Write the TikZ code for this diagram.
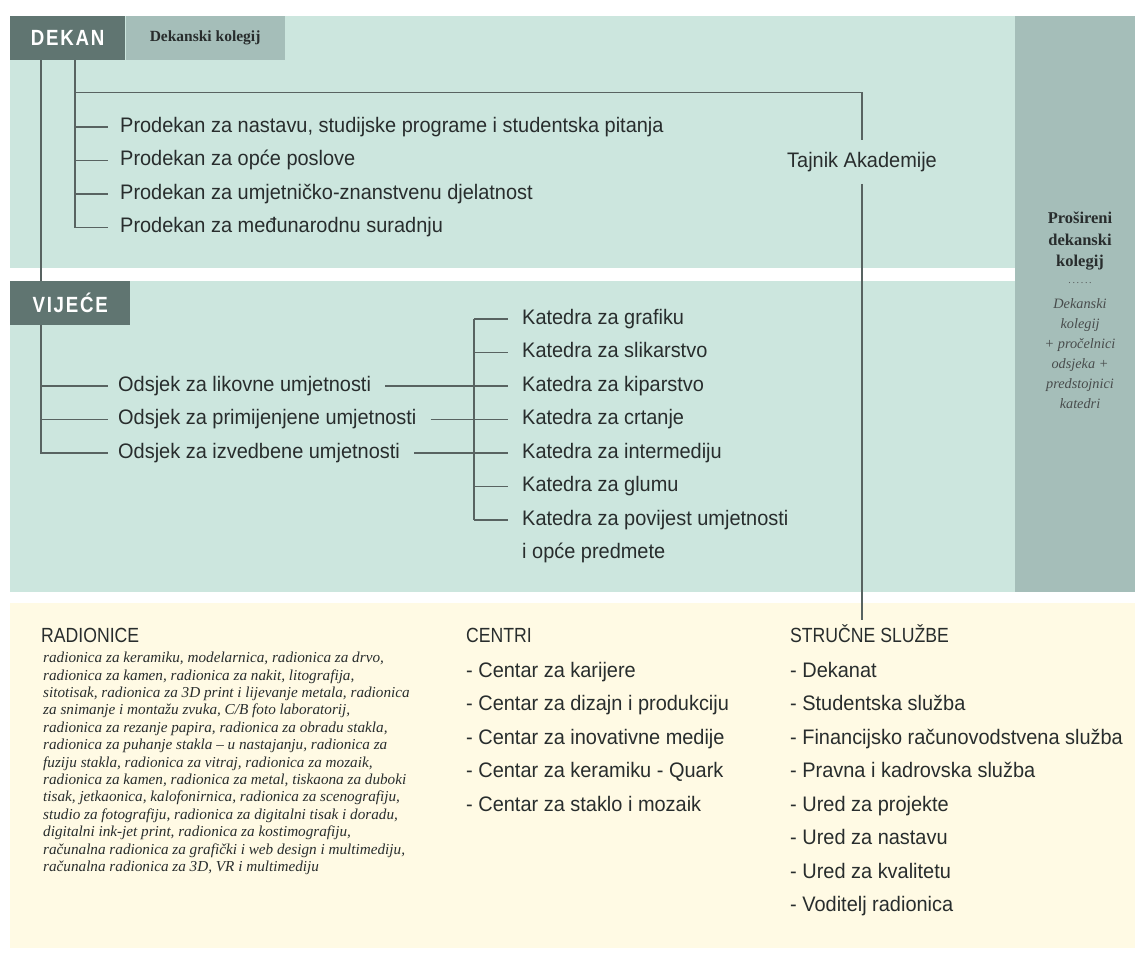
\documentclass[tikz,border=0pt]{standalone}
\usepackage{fontspec}
\setmainfont{Liberation Sans}
\newfontfamily\narrowfont[FakeStretch=0.95]{Liberation Sans}
\newfontfamily\capsfont[FakeStretch=0.86]{Liberation Sans}
\newfontfamily\chieffont[FakeStretch=0.85,LetterSpace=8]{Liberation Sans}
\newfontfamily\serfont{Liberation Serif}
\usepackage{tikz}
\usetikzlibrary{positioning}
\usetikzlibrary{calc}
\definecolor{mint}{RGB}{204, 230, 222}
\definecolor{sage}{RGB}{165, 190, 185}
\definecolor{slate}{RGB}{96, 117, 113}
\definecolor{cream}{RGB}{255, 250, 228}
\definecolor{wire}{RGB}{88, 99, 97}
\definecolor{ink}{RGB}{40, 45, 45}

\begin{document}
\begin{tikzpicture}[x=1pt, y=-1pt,
    wire/.style={draw=wire, line width=1.2pt},
    lbl/.style={anchor=west, inner sep=0pt, text height=15pt, text depth=4.5pt, text=ink,
                font=\narrowfont\fontsize{21}{25}\selectfont},
    head/.style={lbl, font=\capsfont\fontsize{20.5}{24}\selectfont},
    chief/.style={fill=slate, text=white, inner sep=0pt, anchor=north west,
                  minimum height=44pt, font=\chieffont\bfseries\fontsize{22}{26}\selectfont},
    board/.style={fill=sage, text=ink, inner sep=0pt, anchor=north west,
                  minimum height=44pt, font=\serfont\bfseries\fontsize{15.5}{18}\selectfont}
]

        \pgfmathsetmacro{\rowh}{33.5}

        \useasboundingbox (0,0) rectangle (1135,956);

        \fill[mint] (10,16) rectangle (1015,268);
        \fill[mint] (10,281) rectangle (1015,592);
        \fill[sage] (1015,16) rectangle (1135,592);
        \fill[cream] (10,603) rectangle (1135,948);

        \node[chief, minimum width=115pt] (dekan) at (10,16) {DEKAN};
        \node[board, minimum width=159pt] (kolegij) at (dekan.north east) {Dekanski kolegij};

        \coordinate (trunkA) at ($(dekan.south west)+(31,0)$);
        \coordinate (trunkB) at ($(dekan.south west)+(65,0)$);
        \coordinate (branch) at ($(trunkB)+(0,32)$);

        \foreach \name [count=\i] in {{nastavu, studijske programe i studentska pitanja}, opće poslove,
                                      umjetničko-znanstvenu djelatnost, međunarodnu suradnju}
            \node[lbl] (prodekan\i) at (120, {127 + (\i-1)*\rowh}) {Prodekan za \name};

        \node[lbl, anchor=center, inner ysep=12pt] (tajnik) at (862,162) {Tajnik Akademije};

        \foreach \name [count=\i] in {grafiku, slikarstvo, kiparstvo, crtanje, intermediju, glumu,
                                      povijest umjetnosti}
            \node[lbl] (kat\i) at (522, {319 + (\i-1)*\rowh}) {Katedra za \name};
        \node[lbl] (kat7b) at ($(kat7.west)+(0,\rowh)$) {i opće predmete};

        \foreach \name [count=\i] in {likovne, primijenjene, izvedbene}
            \node[lbl] (odsjek\i) at (118, {386 + (\i-1)*\rowh}) {Odsjek za \name\ umjetnosti};

        \node[head] (radionice) at (41,637) {RADIONICE};
        \node[anchor=north west, inner sep=0pt, align=left, text=ink,
              font=\serfont\itshape\fontsize{15.2}{17.4}\selectfont] (popis) at (43,652)
            {radionica za keramiku, modelarnica, radionica za drvo,\\
             radionica za kamen, radionica za nakit, litografija,\\
             sitotisak, radionica za 3D print i lijevanje metala, radionica\\
             za snimanje i montažu zvuka, C/B foto laboratorij,\\
             radionica za rezanje papira, radionica za obradu stakla,\\
             radionica za puhanje stakla – u nastajanju, radionica za\\
             fuziju stakla, radionica za vitraj, radionica za mozaik,\\
             radionica za kamen, radionica za metal, tiskaona za duboki\\
             tisak, jetkaonica, kalofonirnica, radionica za scenografiju,\\
             studio za fotografiju, radionica za digitalni tisak i doradu,\\
             digitalni ink-jet print, radionica za kostimografiju,\\
             računalna radionica za grafički i web design i multimediju,\\
             računalna radionica za 3D, VR i multimediju};

        \node[head] (centri) at (466,637) {CENTRI};
        \foreach \name [count=\i] in {karijere, dizajn i produkciju, inovativne medije,
                                      keramiku - Quark, staklo i mozaik}
            \node[lbl] (centar\i) at (466, {672 + (\i-1)*\rowh}) {- Centar za \name};

        \node[head] (sluzbe) at (790,637) {STRUČNE SLUŽBE};
        \foreach \name [count=\i] in {Dekanat, Studentska služba, Financijsko računovodstvena služba,
                                      Pravna i kadrovska služba, Ured za projekte, Ured za nastavu,
                                      Ured za kvalitetu, Voditelj radionica}
            \node[lbl] (sluzba\i) at (790, {672 + (\i-1)*\rowh}) {- \name};

        \node[align=center, inner sep=0pt, text=ink,
              font=\serfont\bfseries\fontsize{16.5}{21.5}\selectfont] (prosireni) at (1080,241)
            {Prošireni\\dekanski\\kolegij};
        \node[inner sep=0pt, text=ink!80, font=\serfont\fontsize{10}{10}\selectfont] (tockice) at (1080,283)
            {.\,.\,.\,.\,.\,.};
        \node[align=center, inner sep=0pt, text=ink!85,
              font=\serfont\itshape\fontsize{14.3}{20}\selectfont] (clanovi) at (1080,354)
            {Dekanski\\kolegij\\+ pročelnici\\odsjeka +\\predstojnici\\katedri};

        \draw[wire] (trunkB) |- ([xshift=-12pt]prodekan4.west);
        \foreach \i in {1,2,3}
            \draw[wire] (trunkB |- prodekan\i.west) -- ([xshift=-12pt]prodekan\i.west);
        \draw[wire] (branch) -| (tajnik.north);
        \draw[wire, shorten >=7pt] (tajnik.south) -- (tajnik.south |- sluzbe.north);

        \draw[wire] (trunkA) |- ([xshift=-10pt]odsjek3.west);
        \foreach \i in {1,2}
            \draw[wire] (trunkA |- odsjek\i.west) -- ([xshift=-10pt]odsjek\i.west);

        \coordinate (kspine) at ($(kat1.west)+(-48,0)$);
        \draw[wire] (kspine) -- (kspine |- kat7.west);
        \foreach \i in {1,...,7}
            \draw[wire] (kspine |- kat\i.west) -- ([xshift=-14pt]kat\i.west);
        \foreach \i/\k in {1/3, 2/4, 3/5}
            \draw[wire] ([xshift=14pt]odsjek\i.east) -- ([xshift=-14pt]kat\k.west);

        \node[chief, minimum width=120pt] (vijece) at (10,281) {VIJEĆE};

    \end{tikzpicture}
\end{document}
